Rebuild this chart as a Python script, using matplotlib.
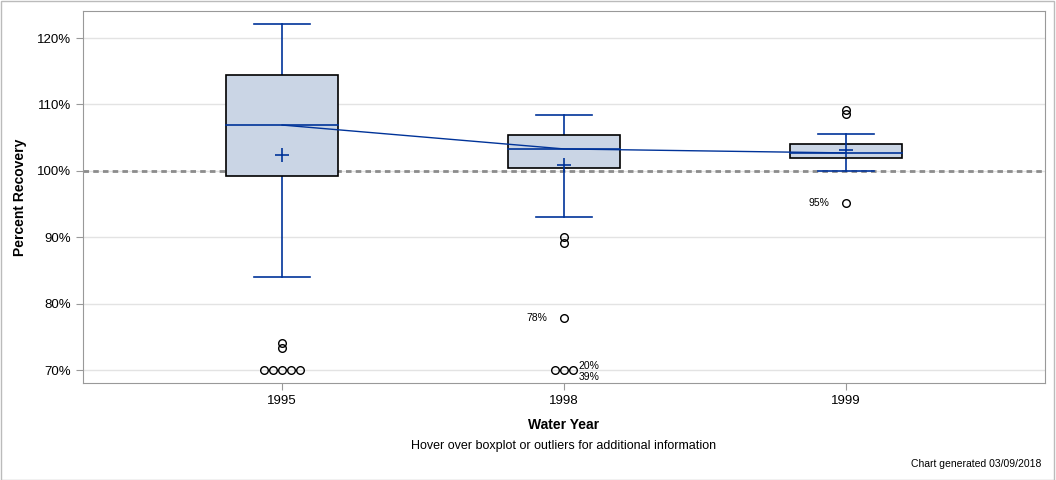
import matplotlib
matplotlib.use('Agg')
import matplotlib.pyplot as plt
from matplotlib.patches import Rectangle

matplotlib.rcParams['font.family'] = ['Liberation Sans', 'DejaVu Sans']

# data
years = ['1995', '1998', '1999']
q1 = [99.2, 100.4, 101.9]
medians = [106.9, 103.3, 102.7]
q3 = [114.4, 105.4, 104.0]
whisk_lo = [84.0, 93.0, 100.0]
whisk_hi = [122.1, 108.4, 105.5]
means = [102.4, 100.9, 103.1]
# outliers: (category index, value, x offset in slots)
out_idx = [0, 0, 0, 0, 0, 0, 0, 1, 1, 1, 1, 1, 1, 2, 2, 2]
out_val = [74.1, 73.3, 70, 70, 70, 70, 70, 90.0, 89.1, 77.8, 70, 70, 70, 109.2, 108.6, 95.2]
out_off = [0, 0, -2, -1, 0, 1, 2, 0, 0, 0, -1, 0, 1, 0, 0, 0]
# labels next to outliers
lab_idx = [1, 1, 1, 2]
lab_val = [77.8, 70.6, 69.0, 95.2]
lab_txt = ['78%', '20%', '39%', '95%']
lab_side = ['left', 'right', 'right', 'left']

blue = '#003399'
fill = '#cad5e5'

fig = plt.figure(figsize=(10.56, 4.8), dpi=100)
ax = fig.add_axes([0.0786, 0.202, 0.9110, 0.775])

for i in range(len(years)):
    ax.add_patch(Rectangle((i - 0.2, q1[i]), 0.4, q3[i] - q1[i],
                           facecolor=fill, edgecolor='black', lw=1.2, zorder=3))
    ax.plot([i - 0.2, i + 0.2], [medians[i]] * 2, color=blue, lw=1.2, zorder=4)
    ax.plot([i, i], [q3[i], whisk_hi[i]], color=blue, lw=1.2, zorder=2)
    ax.plot([i, i], [whisk_lo[i], q1[i]], color=blue, lw=1.2, zorder=2)
    ax.plot([i - 0.1, i + 0.1], [whisk_hi[i]] * 2, color=blue, lw=1.2, zorder=2)
    ax.plot([i - 0.1, i + 0.1], [whisk_lo[i]] * 2, color=blue, lw=1.2, zorder=2)
    ax.plot(i, means[i], marker='+', color=blue, ms=10, mew=1.2, zorder=5)

ax.plot(range(len(years)), medians, color=blue, lw=1, zorder=4)

for i, v, o in zip(out_idx, out_val, out_off):
    ax.plot(i + o * 0.032, v, marker='o', ms=5.5, mfc='none', mec='black', mew=1, zorder=5)

for i, v, t, s in zip(lab_idx, lab_val, lab_txt, lab_side):
    if s == 'left':
        ax.text(i - 0.06, v, t, ha='right', va='center', fontsize=7.5, color='black')
    else:
        ax.text(i + 0.052, v, t, ha='left', va='center', fontsize=7.5, color='black')

ax.axhline(100, color='#8c8c8c', lw=2, ls=(0, (2, 1.5)), zorder=1)

ax.set_xlim(-0.706, 2.706)
ax.set_ylim(68.04, 124.07)
ax.set_xticks(range(len(years)))
ax.set_xticklabels(years)
yt = [70, 80, 90, 100, 110, 120]
ax.set_yticks(yt)
ax.set_yticklabels(['%d%%' % v for v in yt])
ax.tick_params(labelsize=9.5, color='#999999', length=5)
ax.grid(axis='y', color='#e3e3e3', lw=1, zorder=0)
ax.set_axisbelow(True)
for sp in ax.spines.values():
    sp.set_color('#999999')

ax.set_xlabel('Water Year', fontsize=10, fontweight='bold', labelpad=8)
ax.set_ylabel('Percent Recovery', fontsize=10, fontweight='bold', labelpad=7)

fig.text(564 / 1056, 1 - 446 / 480, 'Hover over boxplot or outliers for additional information',
         ha='center', va='center', fontsize=9)
fig.text(1041 / 1056, 1 - 464 / 480, 'Chart generated 03/09/2018',
         ha='right', va='center', fontsize=7.5)
fig.add_artist(Rectangle((0.0005, 0.001), 0.998, 0.997, transform=fig.transFigure,
                         fill=False, edgecolor='#bbbbbb', lw=1))

fig.savefig('out.png', dpi=100)
